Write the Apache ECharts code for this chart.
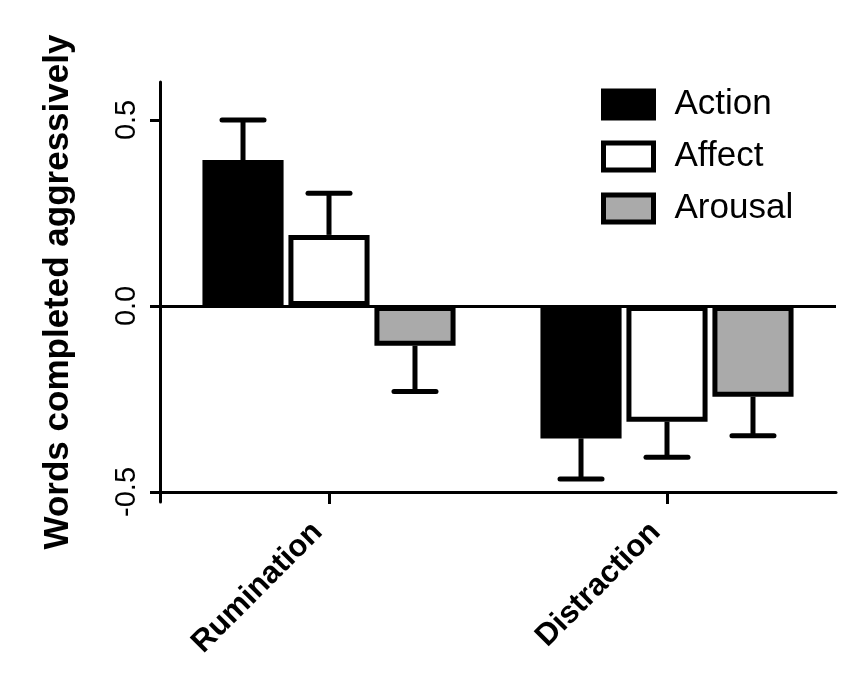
<!DOCTYPE html>
<html>
<head>
<meta charset="utf-8">
<script src="https://cdn.jsdelivr.net/npm/echarts@6/dist/echarts.min.js"></script>
<style>html,body{margin:0;padding:0;background:#fff;}#c{width:846px;height:691px;}</style>
</head>
<body>
<div id="c"></div>
<script>
var categories = ['Rumination', 'Distraction'];
var seriesNames = ['Action', 'Affect', 'Arousal'];
var actionVals = [0.392, -0.356];
var affectVals = [0.191, -0.311];
var arousalVals = [-0.107, -0.244];
var actionErr = [0.108, 0.109];
var affectErr = [0.112, 0.096];
var arousalErr = [0.123, 0.105];
var yTicks = [-0.5, 0, 0.5];

var FONT = '"Liberation Sans", Arial, sans-serif';
var BAR_W = 0.24, BAR_GAP = 0.06;

var vals = [actionVals, affectVals, arousalVals];
var errs = [actionErr, affectErr, arousalErr];
var fills = ['#000000', '#ffffff', '#aaaaaa'];

var errData = [];
for (var s = 0; s < 3; s++) {
  for (var c = 0; c < categories.length; c++) {
    errData.push([c, vals[s][c], errs[s][c], s]);
  }
}

var series = [];
for (var s = 0; s < 3; s++) {
  series.push({
    name: seriesNames[s],
    type: 'bar',
    data: vals[s],
    barWidth: (BAR_W * 100) + '%',
    barGap: (BAR_GAP * 100) + '%',
    z: 3,
    itemStyle: { color: fills[s], borderColor: '#000', borderWidth: 5 },
    markLine: s === 0 ? {
      silent: true, symbol: 'none', label: { show: false },
      lineStyle: { color: '#000', width: 3, type: 'solid' },
      data: [{ yAxis: 0 }]
    } : undefined
  });
}
series.push({
  type: 'custom',
  z: 2,
  data: errData,
  encode: { x: 0, y: 1 },
  renderItem: function (params, api) {
    var ci = api.value(0), v = api.value(1), e = api.value(2), si = api.value(3);
    var sign = v >= 0 ? 1 : -1;
    var band = api.size([1, 0])[0];
    var w = band * BAR_W;
    var step = w * (1 + BAR_GAP);
    var p0 = api.coord([ci, v]);
    var p1 = api.coord([ci, v + sign * e]);
    var x = p0[0] + (si - 1) * step;
    var capHalf = 21;
    var st = { stroke: '#000', lineWidth: 5, lineCap: 'round' };
    return {
      type: 'group',
      children: [
        { type: 'line', shape: { x1: x, y1: p0[1], x2: x, y2: p1[1] }, style: { stroke: '#000', lineWidth: 5 } },
        { type: 'line', shape: { x1: x - capHalf, y1: p1[1], x2: x + capHalf, y2: p1[1] }, style: st }
      ]
    };
  }
});

var chart = echarts.init(document.getElementById('c'), null, { renderer: 'canvas' });
chart.setOption({
  backgroundColor: '#ffffff',
  animation: false,
  textStyle: { fontFamily: FONT, color: '#000' },
  grid: { left: 160, right: 10, top: 82, bottom: 189, containLabel: false },
  legend: {
    data: seriesNames,
    orient: 'vertical',
    left: 601, top: 87,
    icon: 'rect',
    itemWidth: 50, itemHeight: 27,
    itemGap: 17,
    padding: 0,
    itemStyle: { borderWidth: 5, borderColor: '#000' },
    textStyle: { fontFamily: FONT, fontSize: 35, color: '#000', padding: [0, 0, 0, 16] }
  },
  xAxis: {
    type: 'category',
    data: categories,
    offset: -10,
    axisLine: { show: true, onZero: false, lineStyle: { color: '#000', width: 3 } },
    axisTick: { show: true, alignWithLabel: true, length: 12, lineStyle: { color: '#000', width: 3 } },
    axisLabel: { rotate: 45, fontFamily: FONT, fontSize: 31, fontWeight: 'bold', color: '#000', margin: 24, padding: [0, 16, 0, 0] },
    splitLine: { show: false }
  },
  yAxis: {
    type: 'value',
    min: -0.527, max: 0.602,
    name: 'Words completed aggressively',
    nameLocation: 'middle',
    nameRotate: 90,
    nameGap: 84,
    nameTextStyle: { fontFamily: FONT, fontSize: 35, fontWeight: 'bold', color: '#000' },
    axisLine: { show: true, lineStyle: { color: '#000', width: 3 } },
    axisTick: { show: true, length: 10, lineStyle: { color: '#000', width: 3 }, customValues: yTicks },
    axisLabel: {
      rotate: 90, fontFamily: FONT, fontSize: 29, color: '#000', margin: 19,
      customValues: yTicks,
      formatter: function (v) { return v.toFixed(1); }
    },
    splitLine: { show: false }
  },
  series: series
});
</script>
</body>
</html>
